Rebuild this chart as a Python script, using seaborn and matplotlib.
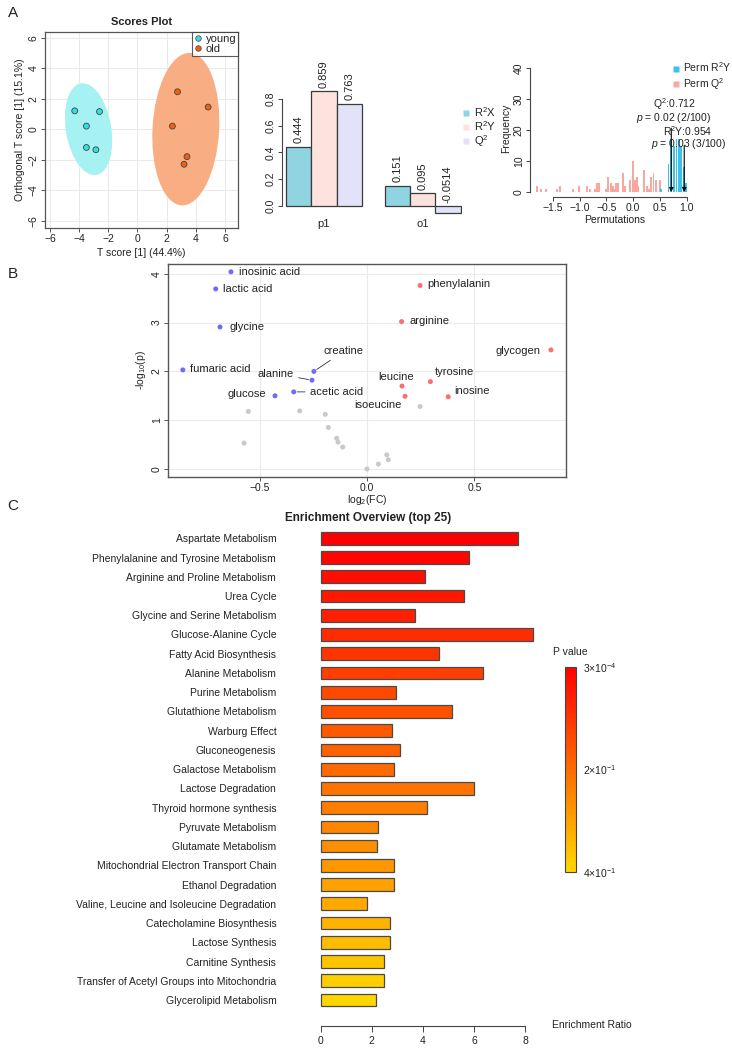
import numpy as np
import pandas as pd
import matplotlib
matplotlib.use("Agg")
import matplotlib.pyplot as plt
import seaborn as sns
from matplotlib.patches import Ellipse
from matplotlib.lines import Line2D
from matplotlib.colors import LinearSegmentedColormap, Normalize
from matplotlib.cm import ScalarMappable

# ---------------- DATA ----------------
# Panel A1: OPLS-DA scores
score_group = ["young"] * 5 + ["old"] * 5
score_t = [-4.3, -2.6, -3.5, -3.5, -2.85, 2.75, 4.85, 2.4, 3.4, 3.2]
score_o = [1.2, 1.15, 0.2, -1.2, -1.35, 2.45, 1.45, 0.2, -1.8, -2.3]

# Panel A2: model overview
model_comp = ["p1", "p1", "p1", "o1", "o1", "o1"]
model_metric = ["R2X", "R2Y", "Q2", "R2X", "R2Y", "Q2"]
model_value = [0.444, 0.859, 0.763, 0.151, 0.095, -0.0514]

# Panel A3: permutation histogram
perm_q2_x = [-1.79, -1.73, -1.63, -1.42, -1.375, -1.12, -1.02, -0.86, -0.815, -0.71,
             -0.675, -0.64, -0.51, -0.465, -0.42, -0.375, -0.35, -0.32, -0.29, -0.19,
             -0.15, -0.06, -0.01, 0.03, 0.065, 0.10, 0.20, 0.25, 0.30, 0.34, 0.38, 0.42, 0.50]
perm_q2_n = [2, 1, 1, 1, 2, 1, 2, 2, 1, 1,
             3, 3, 1, 5, 3, 2, 1, 3, 3, 6,
             2, 4, 10, 4, 5, 2, 7, 2, 1, 5, 6, 4, 4]
perm_r2y_x = [0.52, 0.66, 0.71, 0.76, 0.81, 0.86, 0.90, 0.95, 0.99]
perm_r2y_n = [1, 9, 17, 15, 17, 17, 15, 8, 3]
q2_obs, q2_p = 0.712, "0.02 (2/100)"
r2y_obs, r2y_p = 0.954, "0.03 (3/100)"

# Panel B: volcano
vol_name = ["inosinic acid", "lactic acid", "glycine", "fumaric acid", "creatine",
            "alanine", "acetic acid", "glucose",
            "phenylalanin", "arginine", "glycogen", "leucine", "tyrosine", "isoeucine", "inosine",
            "", "", "", "", "", "", "", "", "", "", "", "", ""]
vol_fc = [-0.633, -0.704, -0.684, -0.857, -0.247, -0.256, -0.341, -0.428,
          0.247, 0.161, 0.856, 0.163, 0.295, 0.177, 0.378,
          -0.552, -0.572, -0.313, -0.194, -0.180, -0.141, -0.135, -0.113,
          0.0, 0.053, 0.092, 0.099, 0.247]
vol_logp = [4.04, 3.69, 2.91, 2.03, 2.00, 1.82, 1.58, 1.50,
            3.76, 3.02, 2.44, 1.70, 1.79, 1.49, 1.48,
            1.18, 0.53, 1.19, 1.12, 0.85, 0.63, 0.55, 0.45,
            0.0, 0.10, 0.29, 0.19, 1.28]
vol_status = ["down"] * 8 + ["up"] * 7 + ["ns"] * 13

# Panel C: enrichment
pathways = ["Aspartate Metabolism", "Phenylalanine and Tyrosine Metabolism",
            "Arginine and Proline Metabolism", "Urea Cycle", "Glycine and Serine Metabolism",
            "Glucose-Alanine Cycle", "Fatty Acid Biosynthesis", "Alanine Metabolism",
            "Purine Metabolism", "Glutathione Metabolism", "Warburg Effect", "Gluconeogenesis",
            "Galactose Metabolism", "Lactose Degradation", "Thyroid hormone synthesis",
            "Pyruvate Metabolism", "Glutamate Metabolism",
            "Mitochondrial Electron Transport Chain", "Ethanol Degradation",
            "Valine, Leucine and Isoleucine Degradation", "Catecholamine Biosynthesis",
            "Lactose Synthesis", "Carnitine Synthesis",
            "Transfer of Acetyl Groups into Mitochondria", "Glycerolipid Metabolism"]
enrich_ratio = [7.73, 5.80, 4.09, 5.59, 3.69, 8.32, 4.63, 6.36, 2.95, 5.15, 2.79, 3.10,
                2.87, 6.01, 4.16, 2.26, 2.22, 2.87, 2.87, 1.82, 2.71, 2.71, 2.48, 2.48, 2.17]
enrich_p = [0.0003, 0.010, 0.025, 0.045, 0.060, 0.082, 0.099, 0.115, 0.135, 0.150,
            0.165, 0.182, 0.200, 0.215, 0.232, 0.250, 0.265, 0.282, 0.300, 0.315,
            0.332, 0.350, 0.365, 0.382, 0.400]
cbar_ticks = [0.0003, 0.2, 0.4]
cbar_labels = ["3\u00d710$^{-4}$", "2\u00d710$^{-1}$", "4\u00d710$^{-1}$"]

# ---------------- STYLE ----------------
sns.set_theme(style="white")
plt.rcParams["font.family"] = ["Liberation Sans", "DejaVu Sans"]
plt.rcParams["mathtext.fontset"] = "custom"
plt.rcParams["mathtext.rm"] = "Liberation Sans"
plt.rcParams["mathtext.it"] = "Liberation Sans:italic"
plt.rcParams["mathtext.bf"] = "Liberation Sans:bold"
plt.rcParams["axes.unicode_minus"] = True
FS = 7.5
TXT = "#222222"

W, H = 732, 1052
fig = plt.figure(figsize=(W / 100, H / 100), dpi=100)


def rect(l, t, r, b):
    return [l / W, 1 - b / H, (r - l) / W, (b - t) / H]


def fx(px):
    return px / W


def fy(py):
    return 1 - py / H


def rot_y(ax):
    for lab in ax.get_yticklabels():
        lab.set_rotation(90)
        lab.set_va("center")


# Panel labels
for lab, (x, y) in {"A": (13, 13), "B": (13, 274), "C": (13, 506)}.items():
    fig.text(fx(x), fy(y), lab, fontsize=11, ha="center", va="center", color=TXT)

# ---------------- A1: Scores plot ----------------
ax1 = fig.add_axes(rect(45, 32, 238, 228))
df_s = pd.DataFrame({"t": score_t, "o": score_o, "group": score_group})
ell_col = {"young": "#A6F1F2", "old": "#F8AD82"}
pt_col = {"young": "#2FE0E2", "old": "#F0600F"}
k = np.sqrt(5.991)
for g in ["young", "old"]:
    sub = df_s[df_s.group == g]
    cov = np.cov(sub.t, sub.o)
    vals, vecs = np.linalg.eigh(cov)
    order = vals.argsort()[::-1]
    vals, vecs = vals[order], vecs[:, order]
    ang = np.degrees(np.arctan2(vecs[1, 0], vecs[0, 0]))
    ax1.add_patch(Ellipse((sub.t.mean(), sub.o.mean()), 2 * k * np.sqrt(vals[0]),
                          2 * k * np.sqrt(vals[1]), angle=ang, facecolor=ell_col[g],
                          edgecolor="none", zorder=1))
sns.scatterplot(data=df_s, x="t", y="o", hue="group", palette=pt_col, s=18,
                edgecolor="#444444", linewidth=0.6, ax=ax1, legend=False, zorder=3)
ax1.set_xlim(-6.34, 6.9)
ax1.set_ylim(-6.48, 6.37)
ax1.set_xticks(range(-6, 7, 2))
ax1.set_yticks(range(-6, 7, 2))
ax1.grid(True, color="#E6E6E6", lw=0.6, zorder=0)
ax1.set_axisbelow(True)
for s in ax1.spines.values():
    s.set_color("#555555")
    s.set_linewidth(0.9)
ax1.tick_params(axis="both", length=3, width=0.7, color="#555555", labelsize=FS,
                labelcolor=TXT, pad=1.5, bottom=True, left=True)
rot_y(ax1)
ax1.set_xlabel("T score [1] (44.4%)", fontsize=FS, color=TXT, labelpad=3)
ax1.set_ylabel("Orthogonal T score [1] (15.1%)", fontsize=FS, color=TXT, labelpad=3)
ax1.set_title("Scores Plot", fontsize=8, fontweight="bold", color=TXT, pad=5)
hnd = [Line2D([], [], marker="o", ls="", markersize=4, markerfacecolor=pt_col[g],
              markeredgecolor="#444444", markeredgewidth=0.5) for g in ["young", "old"]]
leg = ax1.legend(hnd, ["young", "old"], loc="upper right", frameon=True, fancybox=False,
                 edgecolor="#333333", borderaxespad=0, fontsize=FS + 0.5, handlelength=0.8,
                 handletextpad=0.3, borderpad=0.15, labelspacing=0.05)
leg.get_frame().set_linewidth(0.8)

# ---------------- A2: model overview ----------------
ax2 = fig.add_axes(rect(282, 60, 462, 215))
df_m = pd.DataFrame({"comp": model_comp, "metric": model_metric, "value": model_value})
m_pal = {"R2X": "#8FD4E0", "R2Y": "#FDE2DE", "Q2": "#E2E2F8"}
sns.barplot(data=df_m, x="comp", y="value", hue="metric", palette=m_pal, width=0.77,
            edgecolor="#3A3A3A", linewidth=0.9, saturation=1, ax=ax2, legend=False)
for cont, metric in zip(ax2.containers, ["R2X", "R2Y", "Q2"]):
    sub = df_m[df_m.metric == metric]
    for bar, v in zip(cont, sub.value):
        ax2.text(bar.get_x() + bar.get_width() / 2, max(v, 0) + 0.025, str(v),
                 rotation=90, ha="center", va="bottom", fontsize=FS + 0.5, color=TXT,
                 clip_on=False)
ax2.set_xlim(-0.426, 1.40)
ax2.set_ylim(-0.067, 1.09)
ax2.set_yticks([0, 0.2, 0.4, 0.6, 0.8])
ax2.set_yticklabels(["0.0", "0.2", "0.4", "0.6", "0.8"])
for sname in ["top", "right", "bottom"]:
    ax2.spines[sname].set_visible(False)
ax2.spines["left"].set_bounds(0, 0.8)
ax2.spines["left"].set_color("#444444")
ax2.spines["left"].set_linewidth(0.8)
ax2.tick_params(axis="y", length=3, width=0.7, color="#444444", labelsize=FS, pad=1.5,
                left=True, labelcolor=TXT)
ax2.tick_params(axis="x", length=0, labelsize=FS + 0.5, pad=3, labelcolor=TXT)
rot_y(ax2)
ax2.set_xlabel("")
ax2.set_ylabel("")
hnd2 = [Line2D([], [], marker="s", ls="", markersize=4.5, markerfacecolor=m_pal[m],
               markeredgecolor="none") for m in ["R2X", "R2Y", "Q2"]]
fig.legend(hnd2, ["R$^2$X", "R$^2$Y", "Q$^2$"], loc="center left",
           bbox_to_anchor=(fx(457), fy(127)), frameon=False, fontsize=FS + 0.5,
           handlelength=0.6, handletextpad=0.4, labelspacing=0.05, borderpad=0)

# ---------------- A3: permutation histogram ----------------
ax3 = fig.add_axes(rect(530, 60, 700, 197))
c_q2, c_r2 = "#F8A8A0", "#3CC2E6"
ax3.bar(perm_q2_x, perm_q2_n, width=0.036, color=c_q2, linewidth=0)
ax3.bar(perm_r2y_x, perm_r2y_n, width=0.036, color=c_r2, linewidth=0)
ax3.set_xlim(-1.929, 1.249)
ax3.set_ylim(-1.61, 42.6)
ax3.set_xticks([-1.5, -1.0, -0.5, 0.0, 0.5, 1.0])
ax3.set_yticks([0, 10, 20, 30, 40])
for sname in ["top", "right"]:
    ax3.spines[sname].set_visible(False)
ax3.spines["left"].set_bounds(0, 40)
ax3.spines["bottom"].set_bounds(-1.5, 1.0)
for sname in ["left", "bottom"]:
    ax3.spines[sname].set_color("#444444")
    ax3.spines[sname].set_linewidth(0.8)
ax3.tick_params(axis="both", length=3, width=0.7, color="#444444", labelsize=FS, pad=1.5,
                left=True, bottom=True, labelcolor=TXT)
rot_y(ax3)
ax3.set_xlabel("Permutations", fontsize=FS, color=TXT, labelpad=1)
ax3.set_ylabel("Frequency", fontsize=FS, color=TXT, labelpad=2)
arr = dict(arrowstyle="-|>", color="black", lw=0.8, mutation_scale=6, shrinkA=0, shrinkB=0)
ax3.annotate("", xy=(q2_obs, 0), xytext=(q2_obs, 20.5), arrowprops=arr)
ax3.annotate("", xy=(r2y_obs, 0), xytext=(r2y_obs, 15), arrowprops=arr)
ax3.text(0.78, 28.3, "Q$^2$:%.3f" % q2_obs, ha="center", va="center", fontsize=FS, color=TXT, clip_on=False)
ax3.text(0.76, 24, "$p$ = " + q2_p, ha="center", va="center", fontsize=FS, color=TXT, clip_on=False)
ax3.text(1.02, 19.8, "R$^2$Y:%.3f" % r2y_obs, ha="center", va="center", fontsize=FS, color=TXT, clip_on=False)
ax3.text(1.04, 15.6, "$p$ = " + r2y_p, ha="center", va="center", fontsize=FS, color=TXT, clip_on=False)
hnd3 = [Line2D([], [], marker="s", ls="", markersize=4.5, markerfacecolor=c, markeredgecolor="none")
        for c in [c_r2, c_q2]]
fig.legend(hnd3, ["Perm R$^2$Y", "Perm Q$^2$"], loc="center left",
           bbox_to_anchor=(fx(668), fy(76)), frameon=False, fontsize=FS,
           handlelength=0.6, handletextpad=0.35, labelspacing=0.15, borderpad=0)

# ---------------- B: volcano ----------------
ax4 = fig.add_axes(rect(168, 264, 566, 477))
df_v = pd.DataFrame({"name": vol_name, "fc": vol_fc, "logp": vol_logp, "status": vol_status})
v_pal = {"down": "#6F6BFF", "up": "#FF6E6E", "ns": "#C9C9C9"}
sns.scatterplot(data=df_v, x="fc", y="logp", hue="status", palette=v_pal, s=13, linewidth=0,
                ax=ax4, legend=False, zorder=3)
lab_pos = {
    "inosinic acid": (6, 0, "left", False), "lactic acid": (5.5, 0, "left", False),
    "glycine": (6.5, 0, "left", False), "fumaric acid": (5.5, 0.5, "left", False),
    "creatine": (21.5, 14.5, "center", True), "alanine": (-13, 4.7, "right", True),
    "acetic acid": (11.5, 0, "left", True), "glucose": (-6.5, 1.5, "right", False),
    "phenylalanin": (5.5, 1, "left", False), "arginine": (6, 0.5, "left", False),
    "glycogen": (-7.2, -1, "right", False), "leucine": (-4.3, 6.8, "center", False),
    "tyrosine": (3.4, 6.8, "left", False), "isoeucine": (-2.4, -6, "right", False),
    "inosine": (4, 4.3, "left", False),
}
for _, r in df_v[df_v.name != ""].iterrows():
    dx, dy, ha, line = lab_pos[r["name"]]
    ap = dict(arrowstyle="-", color="#333333", lw=0.6, shrinkA=1, shrinkB=2.5) if line else None
    ax4.annotate(r["name"], xy=(r.fc, r.logp), xytext=(dx, dy), textcoords="offset points",
                 ha=ha, va="center", fontsize=FS + 0.5, color=TXT, arrowprops=ap)
ax4.set_xlim(-0.926, 0.926)
ax4.set_ylim(-0.164, 4.2)
ax4.set_xticks([-0.5, 0.0, 0.5])
ax4.set_yticks([0, 1, 2, 3, 4])
ax4.grid(True, color="#EBEBEB", lw=0.8, zorder=0)
ax4.set_axisbelow(True)
for s in ax4.spines.values():
    s.set_color("#555555")
    s.set_linewidth(1.0)
ax4.tick_params(axis="both", length=3, width=0.7, color="#555555", labelsize=FS, pad=1.5,
                bottom=True, left=True, labelcolor=TXT)
rot_y(ax4)
ax4.set_xlabel("log$_2$(FC)", fontsize=FS, color=TXT, labelpad=0)
ax4.set_ylabel("-log$_{10}$(p)", fontsize=FS, color=TXT, labelpad=3)

# ---------------- C: enrichment ----------------
ax5 = fig.add_axes(rect(320, 528, 545, 1026))
cmap = LinearSegmentedColormap.from_list("rg", ["#FF0000", "#FFD700"])
norm = Normalize(vmin=min(enrich_p), vmax=max(enrich_p))
df_e = pd.DataFrame({"pathway": pathways, "ratio": enrich_ratio, "p": enrich_p})
e_pal = {pw: cmap(norm(p)) for pw, p in zip(pathways, enrich_p)}
sns.barplot(data=df_e, x="ratio", y="pathway", hue="pathway", palette=e_pal, width=0.66,
            edgecolor="#4A4A4A", linewidth=0.9, saturation=1, ax=ax5, legend=False,
            orient="h")
ax5.set_xlim(-0.0275, 8.78)
ax5.set_ylim(25.35, -0.535)
ax5.set_xticks([0, 2, 4, 6, 8])
for sname in ["top", "right", "left"]:
    ax5.spines[sname].set_visible(False)
ax5.spines["bottom"].set_bounds(0, 8)
ax5.spines["bottom"].set_color("#444444")
ax5.spines["bottom"].set_linewidth(0.8)
ax5.tick_params(axis="x", length=4, width=0.7, color="#444444", labelsize=FS, pad=3,
                bottom=True, labelcolor=TXT)
ax5.tick_params(axis="y", length=0, labelsize=FS, pad=31.5, labelcolor=TXT)
ax5.set_xlabel("")
ax5.set_ylabel("")
fig.text(fx(368), fy(518), "Enrichment Overview (top 25)", fontsize=8.5, fontweight="bold",
         ha="center", va="center", color=TXT)
fig.text(fx(552), fy(1025), "Enrichment Ratio", fontsize=FS, ha="left", va="center", color=TXT)

cax = fig.add_axes(rect(565, 667, 576, 872))
cb = fig.colorbar(ScalarMappable(norm=norm, cmap=cmap), cax=cax, ticks=cbar_ticks)
cb.set_ticklabels(cbar_labels)
cax.invert_yaxis()
cb.outline.set_edgecolor("#444444")
cb.outline.set_linewidth(0.8)
cax.tick_params(length=0, labelsize=FS, pad=5, labelcolor=TXT)
fig.text(fx(553), fy(652), "P value", fontsize=FS, ha="left", va="center", color=TXT)

fig.savefig("out.png", dpi=100)
